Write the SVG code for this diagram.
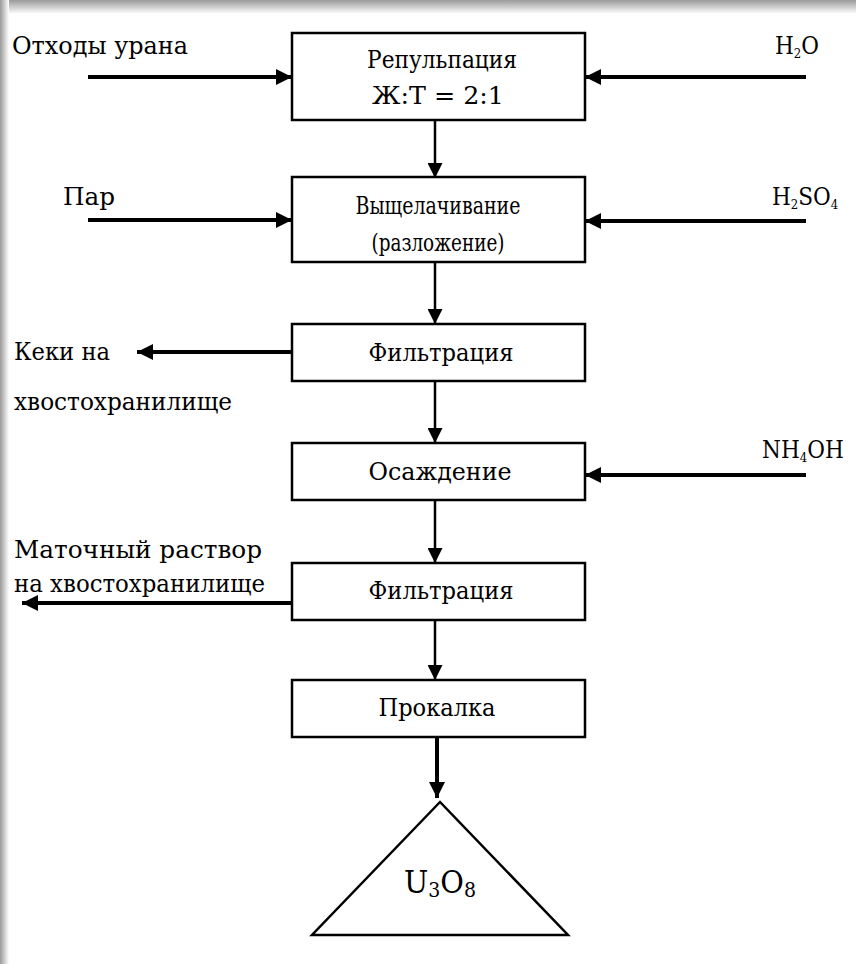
<svg xmlns="http://www.w3.org/2000/svg" width="856" height="964" viewBox="0 0 856 964">
<style>
.box{fill:#fff;stroke:#000;stroke-width:2.5}
.t{font-family:"DejaVu Serif Condensed","DejaVu Serif","Liberation Serif",serif;font-stretch:condensed;font-size:24px;fill:#000}
.c{text-anchor:middle}
.thick{stroke:#000;stroke-width:4;fill:none}
.thin{stroke:#000;stroke-width:2.5;fill:none}
</style>
<defs>
<marker id="ah" viewBox="0 0 10 10" refX="10" refY="5" markerWidth="4" markerHeight="4" orient="auto" markerUnits="strokeWidth"><path d="M0,0 L10,5 L0,10 z" fill="#000"/></marker>
<marker id="ahs" viewBox="0 0 10 10" refX="10" refY="5" markerWidth="6" markerHeight="6" orient="auto" markerUnits="strokeWidth"><path d="M0,0 L10,5 L0,10 z" fill="#000"/></marker>
<linearGradient id="gt" x1="0" y1="0" x2="0" y2="1"><stop offset="0" stop-color="#9a9a9a"/><stop offset="1" stop-color="#ffffff"/></linearGradient>
<linearGradient id="gl" x1="0" y1="0" x2="1" y2="0"><stop offset="0" stop-color="#9a9a9a"/><stop offset="1" stop-color="#ffffff"/></linearGradient>
</defs>
<rect width="856" height="964" fill="#fff"/>
<rect x="0" y="0" width="856" height="14" fill="url(#gt)"/>
<rect x="0" y="0" width="9" height="964" fill="url(#gl)"/>
<g id="connectors">
<line class="thick" x1="88" y1="77" x2="292" y2="77" marker-end="url(#ah)"/>
<line class="thick" x1="806" y1="77" x2="585" y2="77" marker-end="url(#ah)"/>
<line class="thick" x1="88" y1="220" x2="292" y2="220" marker-end="url(#ah)"/>
<line class="thick" x1="806" y1="221" x2="585" y2="221" marker-end="url(#ah)"/>
<line class="thick" x1="292" y1="352" x2="137" y2="352" marker-end="url(#ah)"/>
<line class="thick" x1="806" y1="475" x2="585" y2="475" marker-end="url(#ah)"/>
<line class="thick" x1="292" y1="603" x2="22" y2="603" marker-end="url(#ah)"/>
<line class="thin" x1="435" y1="120" x2="435" y2="178" marker-end="url(#ahs)"/>
<line class="thin" x1="435" y1="262" x2="435" y2="324" marker-end="url(#ahs)"/>
<line class="thin" x1="435" y1="381" x2="435" y2="443" marker-end="url(#ahs)"/>
<line class="thin" x1="435" y1="500" x2="435" y2="563" marker-end="url(#ahs)"/>
<line class="thin" x1="435" y1="620" x2="435" y2="680" marker-end="url(#ahs)"/>
<line class="thick" x1="437" y1="737" x2="437" y2="798" marker-end="url(#ah)"/>
</g>
<g id="n1"><rect class="box" x="292" y="33" width="293" height="87"/><text class="t c" x="442" y="68" textLength="150" lengthAdjust="spacingAndGlyphs">Репульпация</text><text class="t c" x="438" y="104" textLength="132" lengthAdjust="spacingAndGlyphs">Ж:Т = 2:1</text></g>
<g id="n2"><rect class="box" x="292" y="177" width="293" height="85"/><text class="t c" x="438" y="214" textLength="165" lengthAdjust="spacingAndGlyphs">Выщелачивание</text><text class="t c" x="438" y="251" textLength="133" lengthAdjust="spacingAndGlyphs">(разложение)</text></g>
<g id="n3"><rect class="box" x="292" y="324" width="293" height="57"/><text class="t c" x="441" y="361" textLength="145" lengthAdjust="spacingAndGlyphs">Фильтрация</text></g>
<g id="n4"><rect class="box" x="292" y="443" width="293" height="57"/><text class="t c" x="440" y="480" textLength="143" lengthAdjust="spacingAndGlyphs">Осаждение</text></g>
<g id="n5"><rect class="box" x="292" y="563" width="293" height="57"/><text class="t c" x="441" y="599" textLength="145" lengthAdjust="spacingAndGlyphs">Фильтрация</text></g>
<g id="n6"><rect class="box" x="292" y="680" width="293" height="57"/><text class="t c" x="437" y="716" textLength="117" lengthAdjust="spacingAndGlyphs">Прокалка</text></g>
<g id="n7"><polygon points="440,802 312,935 568,935" fill="#fff" stroke="#000" stroke-width="2.5"/><text class="t c" x="440" y="893" style="font-size:32px">U<tspan font-size="21" dy="4">3</tspan><tspan dy="-4">O</tspan><tspan font-size="21" dy="4">8</tspan></text></g>
<g id="labels">
<text class="t" x="12" y="54" textLength="176" lengthAdjust="spacingAndGlyphs">Отходы урана</text>
<text class="t" x="775" y="54">H<tspan font-size="13" dy="4">2</tspan><tspan dy="-4">O</tspan></text>
<text class="t" x="63" y="205" textLength="52" lengthAdjust="spacingAndGlyphs">Пар</text>
<text class="t" x="772" y="205">H<tspan font-size="13" dy="4">2</tspan><tspan dy="-4">SO</tspan><tspan font-size="13" dy="4">4</tspan></text>
<text class="t" x="14" y="360" textLength="96" lengthAdjust="spacingAndGlyphs">Кеки на</text>
<text class="t" x="14" y="410" textLength="218" lengthAdjust="spacingAndGlyphs">хвостохранилище</text>
<text class="t" x="762" y="458">NH<tspan font-size="13" dy="4">4</tspan><tspan dy="-4">OH</tspan></text>
<text class="t" x="14" y="558" textLength="248" lengthAdjust="spacingAndGlyphs">Маточный раствор</text>
<text class="t" x="14" y="592" textLength="251" lengthAdjust="spacingAndGlyphs">на хвостохранилище</text>
</g>
</svg>
